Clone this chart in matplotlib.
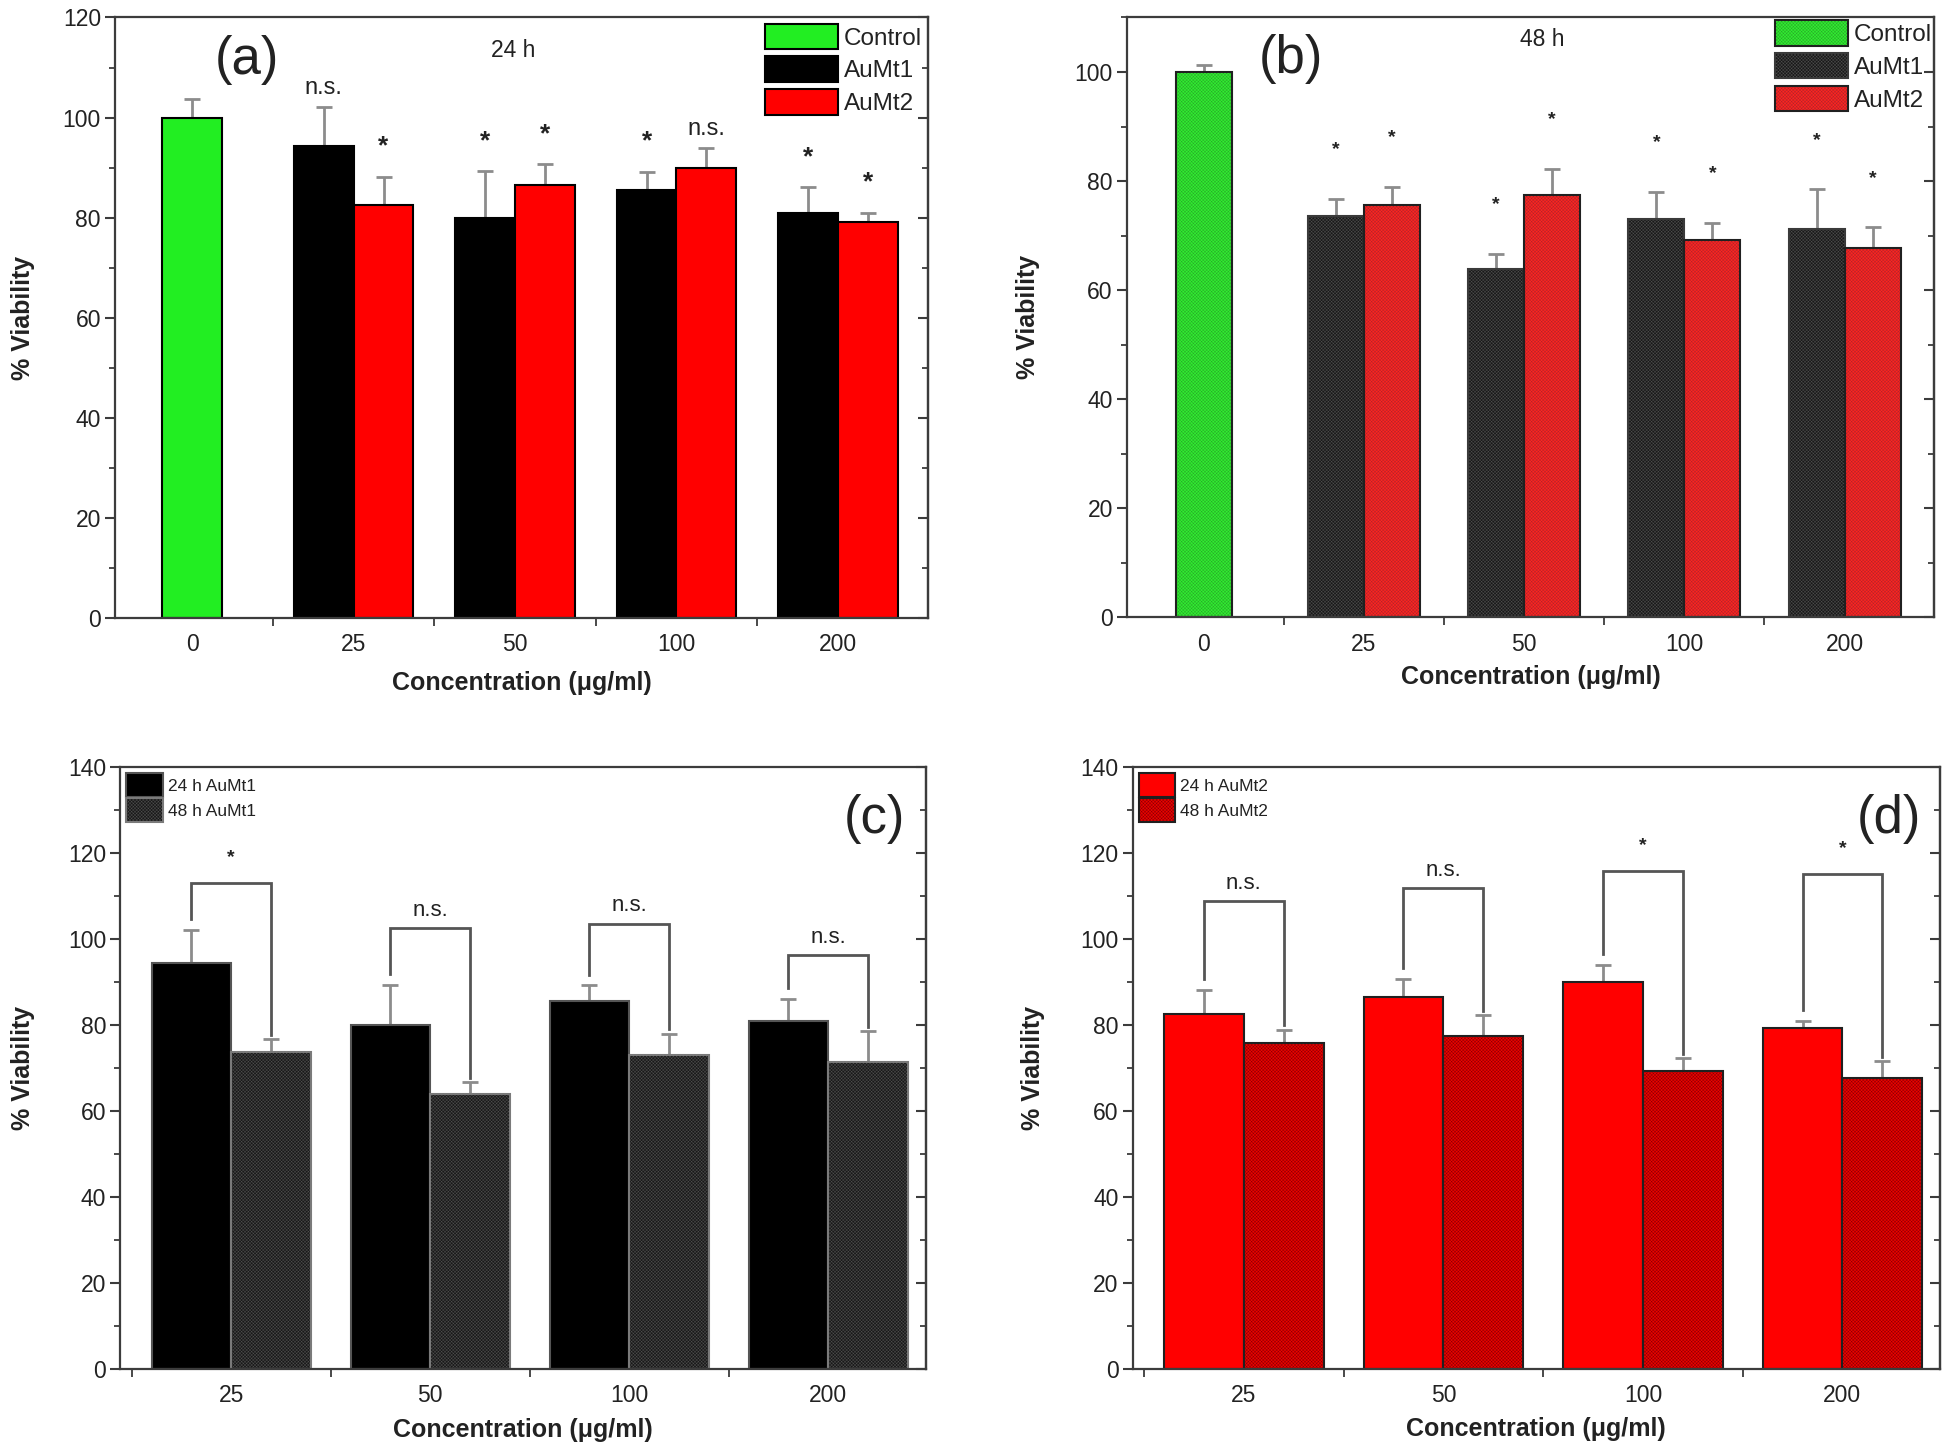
import matplotlib
matplotlib.use('Agg')
import matplotlib.pyplot as plt
import matplotlib.patches as mpatches
from matplotlib.ticker import MultipleLocator, FixedLocator
import numpy as np

plt.rcParams['font.family'] = ['Liberation Sans', 'DejaVu Sans']
plt.rcParams['hatch.linewidth'] = 0.35

# ---- data ----
conc_all = ['0', '25', '50', '100', '200']
conc = ['25', '50', '100', '200']

ctrl_24, ctrl_24_err = 100.0, 3.7
mt1_24 = [94.3, 80.0, 85.5, 81.0]
mt1_24_err = [7.8, 9.3, 3.7, 5.1]
mt2_24 = [82.5, 86.5, 90.0, 79.2]
mt2_24_err = [5.7, 4.2, 3.9, 1.8]

ctrl_48, ctrl_48_err = 100.0, 1.3
mt1_48 = [73.6, 63.9, 73.0, 71.3]
mt1_48_err = [3.1, 2.8, 5.0, 7.2]
mt2_48 = [75.7, 77.5, 69.2, 67.7]
mt2_48_err = [3.2, 4.8, 3.1, 3.8]

sig_a_mt1 = ['n.s.', '*', '*', '*']
sig_a_mt2 = ['*', '*', 'n.s.', '*']
sig_b_mt1 = ['*', '*', '*', '*']
sig_b_mt2 = ['*', '*', '*', '*']
sig_c = ['*', 'n.s.', 'n.s.', 'n.s.']
sig_d = ['n.s.', 'n.s.', '*', '*']
brk_c = [113.0, 102.5, 103.5, 96.2]
brk_d = [108.7, 111.8, 115.8, 115.1]

GREEN = '#22ee22'
RED = '#ff0000'
BLACK = '#000000'
ERR = '#8c8c8c'
SPINE = '#3c3c3c'
TXT = '#222222'
HATCH = 'x' * 10


def hbar(ax, x, h, w, face, hatchc, edge, lw=1.5):
    ax.bar(x, h, w, color=face, linewidth=0, zorder=2)
    ax.bar(x, h, w, color='none', edgecolor=hatchc, hatch=HATCH, linewidth=0, zorder=2.1)
    ax.bar(x, h, w, color='none', edgecolor=edge, linewidth=lw, zorder=2.2)
    return (mpatches.Patch(facecolor=face, linewidth=0),
            mpatches.Patch(facecolor='none', edgecolor=hatchc, hatch=HATCH, linewidth=0),
            mpatches.Patch(facecolor='none', edgecolor=edge, linewidth=lw))


def pbar(ax, x, h, w, face, edge, lw=1.5):
    ax.bar(x, h, w, color=face, edgecolor=edge, linewidth=lw, zorder=2)
    return mpatches.Patch(facecolor=face, edgecolor=edge, linewidth=lw)


def errs(ax, x, h, e):
    e = np.atleast_1d(e)
    ax.errorbar(x, h, yerr=[np.zeros_like(e), e], fmt='none', ecolor=ERR,
                elinewidth=2, capsize=5.5, capthick=2, zorder=1.5)


def style(ax, ymax, yfrac_lab, xfrac_lab):
    ax.set_ylim(0, ymax)
    ax.yaxis.set_major_locator(MultipleLocator(20))
    ax.yaxis.set_minor_locator(MultipleLocator(10))
    for sp in ax.spines.values():
        sp.set_color(SPINE)
        sp.set_linewidth(1.6)
    ax.tick_params(axis='y', which='major', direction='out', length=7, width=1.5,
                   colors=SPINE, labelsize=16.5, labelcolor=TXT, pad=3)
    ax.tick_params(axis='y', which='minor', direction='out', length=4, width=1.3, colors=SPINE)
    ax.tick_params(axis='x', which='major', length=0, labelsize=16.5, labelcolor=TXT, pad=11)
    ax.tick_params(axis='x', which='minor', direction='out', length=6, width=1.3, colors=SPINE)
    sec = ax.secondary_yaxis('right')
    sec.yaxis.set_major_locator(MultipleLocator(20))
    sec.yaxis.set_minor_locator(MultipleLocator(10))
    sec.tick_params(which='major', direction='in', length=7, width=1.5, colors=SPINE, labelright=False)
    sec.tick_params(which='minor', direction='in', length=4, width=1.3, colors=SPINE)
    sec.spines['right'].set_color(SPINE)
    sec.spines['right'].set_linewidth(1.6)
    ax.set_ylabel('% Viability', fontsize=18, fontweight='bold', color=TXT)
    ax.set_xlabel('Concentration (\u03bcg/ml)', fontsize=18, fontweight='bold', color=TXT)
    ax.yaxis.set_label_coords(yfrac_lab, 0.5)
    ax.xaxis.set_label_coords(0.5, xfrac_lab)


fig = plt.figure(figsize=(19.46, 14.56), dpi=100)
fig.patch.set_facecolor('white')

# ---------------- (a) 24 h ----------------
ax = fig.add_axes([0.059, 0.5755, 0.418, 0.4125])
w = 0.37
g = np.arange(1, len(conc) + 1)
h_ctrl = pbar(ax, 0, ctrl_24, w, GREEN, BLACK)
errs(ax, 0, ctrl_24, ctrl_24_err)
h1 = pbar(ax, g - w / 2, mt1_24, w, BLACK, BLACK)
h2 = pbar(ax, g + w / 2, mt2_24, w, RED, BLACK)
errs(ax, g - w / 2, mt1_24, mt1_24_err)
errs(ax, g + w / 2, mt2_24, mt2_24_err)
for xs, vals, es, sigs in [(g - w / 2, mt1_24, mt1_24_err, sig_a_mt1),
                           (g + w / 2, mt2_24, mt2_24_err, sig_a_mt2)]:
    for xi, v, e, s in zip(xs, vals, es, sigs):
        if s == 'n.s.':
            ax.text(xi, v + e + 3.8, s, ha='center', va='center', fontsize=17, color=TXT, zorder=5)
        else:
            ax.text(xi, v + e + 6.0, s, ha='center', va='center', fontsize=19,
                    fontweight='bold', color=TXT, zorder=5)
ax.set_xlim(-0.48, 4.56)
ax.set_xticks(np.arange(len(conc_all)))
ax.set_xticklabels(conc_all)
ax.xaxis.set_minor_locator(FixedLocator([0.5, 1.5, 2.5, 3.5]))
style(ax, 120, -0.098, -0.088)
ax.text(0.163, 0.93, '(a)', transform=ax.transAxes, fontsize=38, ha='center', va='center',
        color=TXT, family=['Liberation Sans Narrow', 'Liberation Sans', 'DejaVu Sans'])
ax.text(0.49, 0.945, '24 h', transform=ax.transAxes, fontsize=16.5, ha='center', va='center', color=TXT)
ax.legend([h_ctrl, h1, h2], ['Control', 'AuMt1', 'AuMt2'], loc='upper right', frameon=False,
          fontsize=17.5, handlelength=3.0, handleheight=1.25, labelspacing=0.28, handletextpad=0.25,
          borderaxespad=0.15, borderpad=0.1, labelcolor=TXT)

# ---------------- (b) 48 h ----------------
ax = fig.add_axes([0.579, 0.576, 0.415, 0.412])
w = 0.35
hb_ctrl = hbar(ax, 0, ctrl_48, w, '#30f030', '#2aa82a', '#202020')
errs(ax, 0, ctrl_48, ctrl_48_err)
hb1 = hbar(ax, g - w / 2, mt1_48, w, '#181818', '#4c4c4c', '#3a3a3a')
hb2 = hbar(ax, g + w / 2, mt2_48, w, '#ff2222', '#b02828', '#202020')
errs(ax, g - w / 2, mt1_48, mt1_48_err)
errs(ax, g + w / 2, mt2_48, mt2_48_err)
for xs, vals, es, sigs in [(g - w / 2, mt1_48, mt1_48_err, sig_b_mt1),
                           (g + w / 2, mt2_48, mt2_48_err, sig_b_mt2)]:
    for xi, v, e, s in zip(xs, vals, es, sigs):
        ax.text(xi, v + e + 9.0, s, ha='center', va='center', fontsize=14,
                fontweight='bold', color=TXT, zorder=5)
ax.set_xlim(-0.48, 4.56)
ax.set_xticks(np.arange(len(conc_all)))
ax.set_xticklabels(conc_all)
ax.xaxis.set_minor_locator(FixedLocator([0.5, 1.5, 2.5, 3.5]))
style(ax, 110, -0.108, -0.08)
ax.text(0.203, 0.93, '(b)', transform=ax.transAxes, fontsize=38, ha='center', va='center',
        color=TXT, family=['Liberation Sans Narrow', 'Liberation Sans', 'DejaVu Sans'])
ax.text(0.515, 0.963, '48 h', transform=ax.transAxes, fontsize=16.5, ha='center', va='center', color=TXT)
ax.legend([hb_ctrl, hb1, hb2], ['Control', 'AuMt1', 'AuMt2'], loc='upper right', frameon=False,
          fontsize=17.5, handlelength=3.0, handleheight=1.25, labelspacing=0.28, handletextpad=0.25,
          borderaxespad=0.05, borderpad=0.05, labelcolor=TXT)


def paired(ax, v24, e24, v48, e48, face24, edge24, face48, hatch48, edge48, sig, brk, lab24, lab48, tag):
    w = 0.4
    x = np.arange(len(conc))
    ha = pbar(ax, x - w / 2, v24, w, face24, edge24)
    hb = hbar(ax, x + w / 2, v48, w, face48, hatch48, edge48)
    errs(ax, x - w / 2, v24, e24)
    errs(ax, x + w / 2, v48, e48)
    for xi, a, ea, b, eb, s, y in zip(x, v24, e24, v48, e48, sig, brk):
        xl, xr = xi - w / 2, xi + w / 2
        ax.plot([xl, xl, xr, xr], [a + ea + 2.5, y, y, b + eb + 1.0], color='#555555',
                lw=2, zorder=3, solid_joinstyle='miter')
        if s == 'n.s.':
            ax.text(xi, y + 4.2, s, ha='center', va='center', fontsize=16, color=TXT)
        else:
            ax.text(xi, y + 5.8, s, ha='center', va='center', fontsize=14,
                    fontweight='bold', color=TXT)
    ax.set_xlim(-0.558, 3.49)
    ax.set_xticks(x)
    ax.set_xticklabels(conc)
    ax.xaxis.set_minor_locator(FixedLocator([-0.5, 0.5, 1.5, 2.5]))
    ax.legend([ha, hb], [lab24, lab48], loc='upper left', frameon=False, fontsize=12.5,
              handlelength=2.1, handleheight=1.75, labelspacing=0.08, handletextpad=0.3,
              borderaxespad=0.25, borderpad=0.1, labelcolor=TXT)
    ax.text(0.936, 0.913, tag, transform=ax.transAxes, fontsize=38, ha='center', va='center',
            color=TXT, family=['Liberation Sans Narrow', 'Liberation Sans', 'DejaVu Sans'])


# ---------------- (c) AuMt1 24 vs 48 ----------------
ax = fig.add_axes([0.0617, 0.0598, 0.414, 0.4135])
paired(ax, mt1_24, mt1_24_err, mt1_48, mt1_48_err, BLACK, '#555555', '#181818', '#4c4c4c', '#7a7a7a',
       sig_c, brk_c, '24 h AuMt1', '48 h AuMt1', '(c)')
style(ax, 140, -0.106, -0.081)

# ---------------- (d) AuMt2 24 vs 48 ----------------
ax = fig.add_axes([0.582, 0.0598, 0.415, 0.4135])
paired(ax, mt2_24, mt2_24_err, mt2_48, mt2_48_err, RED, '#202020', '#ee0000', '#8a0000', '#202020',
       sig_d, brk_d, '24 h AuMt2', '48 h AuMt2', '(d)')
style(ax, 140, -0.108, -0.08)

fig.savefig('out.png', dpi=100, facecolor='white')
